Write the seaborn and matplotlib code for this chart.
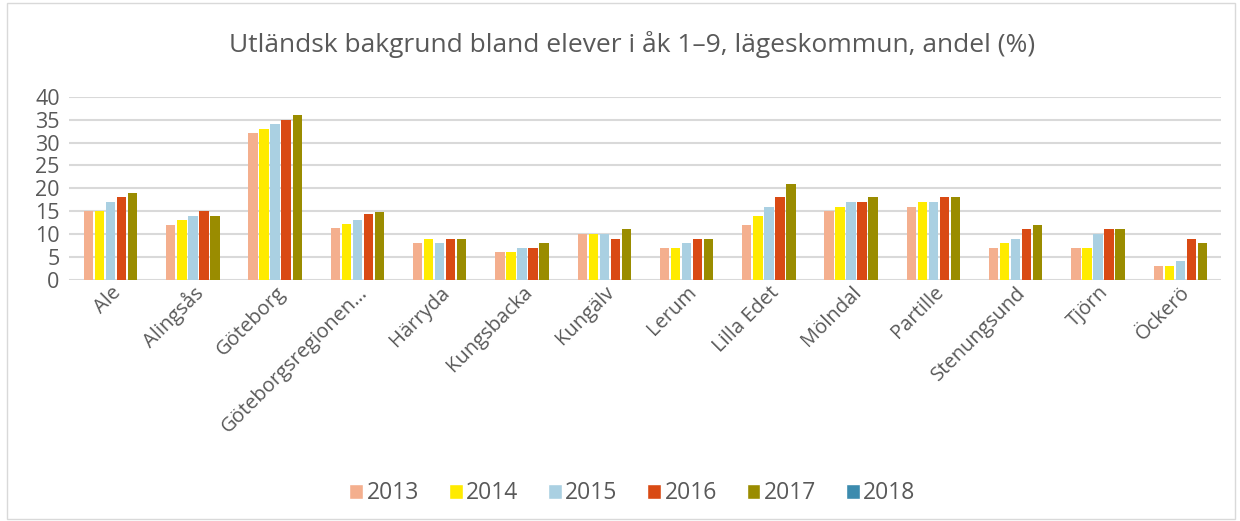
import pandas as pd
import seaborn as sns
import matplotlib.pyplot as plt
from matplotlib.patches import Patch, Rectangle

kommuner = ['Ale', 'Alingsås', 'Göteborg', 'Göteborgsregionen…', 'Härryda', 'Kungsbacka',
            'Kungälv', 'Lerum', 'Lilla Edet', 'Mölndal', 'Partille', 'Stenungsund',
            'Tjörn', 'Öckerö']
years = ['2013', '2014', '2015', '2016', '2017', '2018']
v2013 = [15, 12, 32, 11.4, 8, 6, 10, 7, 12, 15, 16, 7, 7, 3]
v2014 = [15, 13, 33, 12.1, 9, 6, 10, 7, 14, 16, 17, 8, 7, 3]
v2015 = [17, 14, 34, 13.1, 8, 7, 10, 8, 16, 17, 17, 9, 10, 4]
v2016 = [18, 15, 35, 14.3, 9, 7, 9, 9, 18, 17, 18, 11, 11, 9]
v2017 = [19, 14, 36, 14.8, 9, 8, 11, 9, 21, 18, 18, 12, 11, 8]
# 2018 has no values in the chart, only a legend entry
colors = ['#F4AF8E', '#FFEB00', '#AAD0E2', '#D94A14', '#9A8C00', '#3C8BAE']

rows = []
for yr, vals in zip(years[:5], [v2013, v2014, v2015, v2016, v2017]):
    for k, v in zip(kommuner, vals):
        rows.append({'kommun': k, 'år': yr, 'andel': v})
df = pd.DataFrame(rows)

sns.set_style('white')
plt.rcParams['font.family'] = ['Open Sans', 'DejaVu Sans']
text_col = '#595959'

fig = plt.figure(figsize=(12.4, 5.21), dpi=100)
ax = fig.add_axes([0.056, 0.463, 0.929, 0.351])
sns.barplot(data=df, x='kommun', y='andel', hue='år', palette=colors[:5],
            saturation=1, width=0.67, gap=0.15, ax=ax, legend=False, edgecolor='none')

ax.set_ylim(0, 40)
ax.set_yticks(range(0, 41, 5))
ax.set_xlim(-0.5, len(kommuner) - 0.5)
ax.grid(axis='y', color='#D9D9D9', linewidth=1.5)
ax.set_axisbelow(True)
for s in ax.spines.values():
    s.set_visible(False)
ax.set_xlabel('')
ax.set_ylabel('')
ax.tick_params(axis='y', labelsize=15.5, colors=text_col, length=0, pad=7)
ax.tick_params(axis='x', labelsize=14.5, colors=text_col, length=0, pad=2)
plt.setp(ax.get_xticklabels(), rotation=45, ha='right', rotation_mode='anchor')

fig.suptitle('Utländsk bakgrund bland elever i åk 1–9, lägeskommun, andel (%)',
             x=0.51, y=0.94, fontsize=19, color=text_col)

handles = [Patch(facecolor=c, label=y) for c, y in zip(colors, years)]
fig.legend(handles=handles, loc='center', bbox_to_anchor=(0.51, 0.053), ncol=6,
           frameon=False, fontsize=16.5, labelcolor=text_col, handlelength=0.6,
           handleheight=0.6, handletextpad=0.15, columnspacing=1.3)

fig.patches.append(Rectangle((0.006, 0.004), 0.99, 0.99, transform=fig.transFigure,
                             fill=False, edgecolor='#D9D9D9', linewidth=1))

fig.savefig('out.png', dpi=100)
